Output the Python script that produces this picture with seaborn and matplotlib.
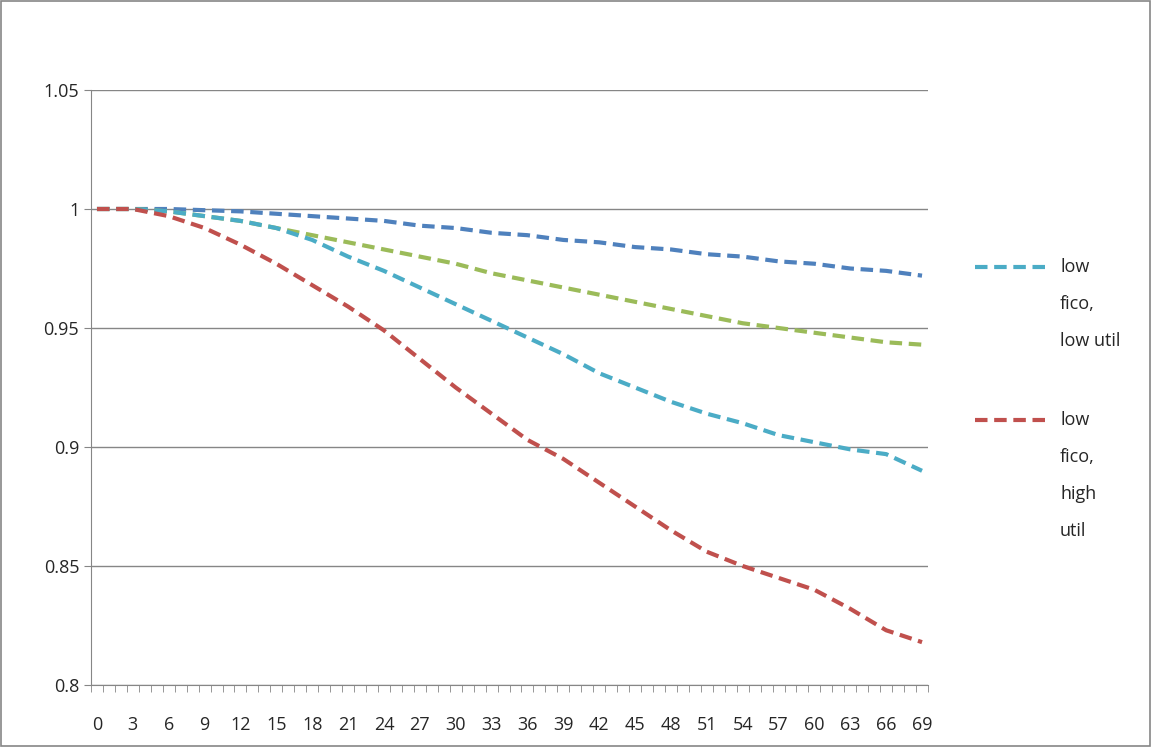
import numpy as np
import pandas as pd
import matplotlib
matplotlib.use("Agg")
import matplotlib.pyplot as plt
import seaborn as sns
from matplotlib.patches import Rectangle
from matplotlib.lines import Line2D

months = list(range(0, 70, 3))
series_a = [1, 1, 1, 0.9995, 0.999, 0.998, 0.997, 0.996, 0.995, 0.993, 0.992, 0.990,
            0.989, 0.987, 0.986, 0.984, 0.983, 0.981, 0.980, 0.978, 0.977, 0.975, 0.974, 0.972]
series_b = [1, 1, 0.999, 0.997, 0.995, 0.992, 0.989, 0.986, 0.983, 0.980, 0.977, 0.973,
            0.970, 0.967, 0.964, 0.961, 0.958, 0.955, 0.952, 0.950, 0.948, 0.946, 0.944, 0.943]
low_fico_low_util = [1, 1, 0.999, 0.997, 0.995, 0.992, 0.987, 0.980, 0.974, 0.967, 0.960, 0.953,
                     0.946, 0.939, 0.931, 0.925, 0.919, 0.914, 0.910, 0.905, 0.902, 0.899, 0.897, 0.890]
low_fico_high_util = [1, 1, 0.997, 0.992, 0.985, 0.977, 0.968, 0.959, 0.949, 0.937, 0.925, 0.914,
                      0.903, 0.895, 0.885, 0.875, 0.865, 0.856, 0.850, 0.845, 0.840, 0.832, 0.823, 0.818]
legend_labels = [['low', 'fico,', 'low util'], ['low', 'fico,', 'high', 'util']]

sns.set_style("white")
plt.rcParams['font.family'] = ['Open Sans', 'DejaVu Sans']

W, H = 1151, 747
fig = plt.figure(figsize=(W/100, H/100), dpi=100)
ax = fig.add_axes([91/W, 1 - 685/H, (928 - 91)/W, (685 - 90)/H])

dash = (0, (3, 1.6))
styles = [(series_a, '#4F81BD'), (series_b, '#9BBB59'),
          (low_fico_low_util, '#4BACC6'), (low_fico_high_util, '#C0504D')]
for vals, col in styles:
    df = pd.DataFrame({'m': months, 'v': vals})
    sns.lineplot(data=df, x='m', y='v', ax=ax, color=col, lw=3, linestyle=dash)

ax.set_xlim(-0.5, 69.5)
ax.set_ylim(0.8, 1.05)
ax.set_yticks([0.8, 0.85, 0.9, 0.95, 1, 1.05])
ax.set_yticklabels(['0.8', '0.85', '0.9', '0.95', '1', '1.05'])
ax.set_xticks(months)
ax.set_xticks(np.arange(-0.5, 70, 1), minor=True)
ax.tick_params(axis='x', which='major', length=0, labelsize=13, pad=22)
ax.tick_params(axis='x', which='minor', length=5, color='#868686', direction='out', bottom=True)
ax.tick_params(axis='y', length=5, color='#868686', direction='out', left=True, labelsize=13)
ax.grid(axis='y', color='#868686', lw=1)
ax.set_xlabel('')
ax.set_ylabel('')
for s in ['top', 'right']:
    ax.spines[s].set_visible(False)
for s in ['left', 'bottom']:
    ax.spines[s].set_color('#868686')

# legend, Excel style: key aligned with the first text line
for (col, lines), y0 in zip([('#4BACC6', legend_labels[0]), ('#C0504D', legend_labels[1])], [267, 420]):
    fig.add_artist(Line2D([975/W, 1048/W], [1 - y0/H] * 2, color=col, lw=3, linestyle=dash))
    for i, t in enumerate(lines):
        fig.text(1060/W, 1 - (y0 + 37*i)/H, t, fontsize=13, va='center', ha='left')

fig.patches.append(Rectangle((0.001, 0.001), 0.998, 0.998, transform=fig.transFigure,
                             fill=False, edgecolor='#868686', lw=1.2))
fig.savefig('out.png', dpi=100)
